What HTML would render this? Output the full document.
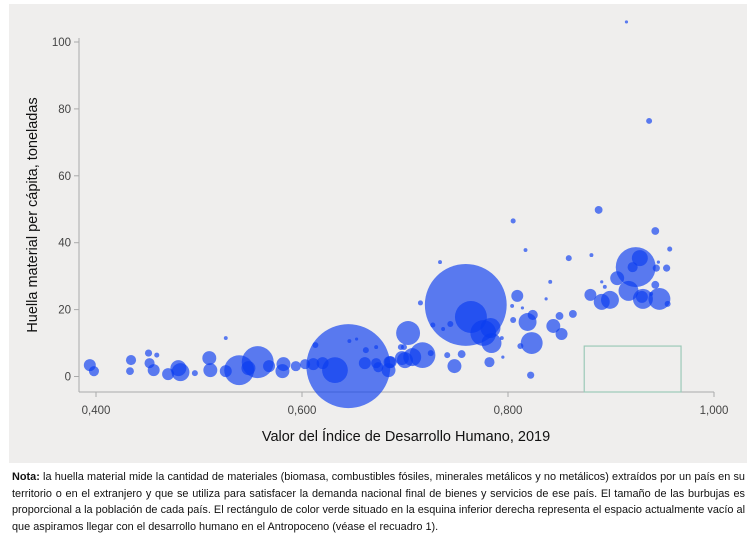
<!DOCTYPE html>
<html><head><meta charset="utf-8"><style>
body{margin:0;width:754px;height:529px;background:#fff;overflow:hidden;font-family:"Liberation Sans",sans-serif;}
#panel{position:absolute;left:9px;top:4px;width:738px;height:459px;background:#efeeed;}
#note{position:absolute;left:12px;top:469px;width:733px;font-size:10.9px;line-height:16.7px;color:#111;text-align:justify;}
svg{position:absolute;left:0;top:0;}
</style></head><body>
<div id="panel"></div>
<svg id="chart" width="754" height="529"></svg>
<div id="note"><b>Nota:</b> la huella material mide la cantidad de materiales (biomasa, combustibles fósiles, minerales metálicos y no metálicos) extraídos por un país en su territorio o en el extranjero y que se utiliza para satisfacer la demanda nacional final de bienes y servicios de ese país. El tamaño de las burbujas es proporcional a la población de cada país. El rectángulo de color verde situado en la esquina inferior derecha representa el espacio actualmente vacío al que aspiramos llegar con el desarrollo humano en el Antropoceno (véase el recuadro 1).</div>
<script>
const hdi=[.394,.398,.434,.433,.451,.459,.452,.456,.470,.482,.480,.496,.510,.511,.526,.526,.539,.557,.548,.568,.582,.581,.594,.603,.611,.620,.613,.646,.653,.672,.662,.661,.672,.685,.684,.674,.699,.700,.645,.632,.759,.764,.924,.928,.921,.946,.944,.954,.888,.805,.943,.817,.957,.859,.881,.734,.906,.891,.894,.943,.880,.891,.899,.917,.930,.931,.947,.955,.939,.841,.837,.863,.809,.804,.814,.805,.819,.824,.823,.812,.822,.844,.850,.852,.715,.727,.737,.744,.703,.717,.707,.697,.725,.755,.748,.741,.782,.794,.784,.776,.783,.795,.696,.686,.915,.937];
const footprint=[3.4,1.6,4.9,1.6,7.0,6.4,4.0,1.9,0.7,1.3,2.5,1.0,5.5,1.9,11.5,1.6,1.9,4.3,2.5,3.1,3.7,1.6,3.1,3.7,3.7,4.0,9.4,10.6,11.2,8.8,7.9,4.0,4.0,4.3,1.9,2.8,8.8,4.9,3.1,1.9,21.4,17.8,32.7,35.4,32.7,34.2,32.4,32.4,49.8,46.5,43.5,37.8,38.1,35.4,36.3,34.2,29.4,28.3,26.8,27.4,24.4,22.3,22.9,25.6,23.8,23.2,23.2,21.7,24.7,28.3,23.2,18.7,24.1,21.1,20.5,16.9,16.3,18.4,10.0,9.1,0.4,15.1,18.1,12.7,22.0,15.4,14.2,15.7,13.0,6.4,5.8,5.5,7.0,6.7,3.1,6.4,4.3,11.5,10.0,13.0,14.5,5.8,8.8,4.3,106,76.4];
const population=[28,20,20,12,10,5,20,28,28,63,50,7,38,38,3,28,175,200,38,28,38,38,20,20,28,28,7,3,2,3,7,28,20,28,38,20,7,50,1380,130,1311,200,312,50,20,2,10,10,12,5,12,3,5,7,3,3,38,2,3,12,28,50,63,78,28,78,94,7,3,3,2,12,28,3,2,7,63,20,94,7,10,38,12,28,5,5,3,7,112,130,63,38,7,12,38,7,20,3,78,130,78,2,7,28,2,7];
const xTicks=[0.4,0.6,0.8,1.0], xTickLabels=["0,400","0,600","0,800","1,000"];
const yTicks=[0,20,40,60,80,100];
const targetZone=[0.874,0.968,0,9.1];
const NS="http://www.w3.org/2000/svg";
const svg=document.getElementById('chart');
const X=h=>96+(h-0.4)*1030, Y=v=>376.5-v*3.345, R=p=>Math.sqrt(p)*1.13;
function mk(t,a){const e=document.createElementNS(NS,t);for(const k in a)e.setAttribute(k,a[k]);svg.appendChild(e);return e;}
const tf='"Liberation Sans Narrow","Liberation Sans",sans-serif';
let e=mk('line',{x1:79,y1:38,x2:79,y2:392,stroke:'#aaa'});


e=mk('line',{x1:79,y1:392,x2:714,y2:392,stroke:'#aaa'});


yTicks.forEach(v=>{mk('line',{x1:74,x2:79,y1:Y(v),y2:Y(v),stroke:'#aaa'});
 const t=mk('text',{x:71,y:Y(v)+4,'text-anchor':'end','font-size':11.5,fill:'#444','font-family':tf});t.textContent=v;
 
 });
xTicks.forEach((v,i)=>{mk('line',{x1:X(v),x2:X(v),y1:392,y2:397,stroke:'#aaa'});
 const t=mk('text',{x:X(v),y:414,'text-anchor':'middle','font-size':11.5,fill:'#444','font-family':tf});t.textContent=xTickLabels[i];
 
 });
e=mk('rect',{x:X(targetZone[0]),y:Y(targetZone[3]),width:X(targetZone[1])-X(targetZone[0]),height:Y(targetZone[2])-Y(targetZone[3])+15.5,fill:'none',stroke:'#9cc9b8','stroke-width':1.2});


const idx=hdi.map((_,i)=>i).sort((a,b)=>population[b]-population[a]);
idx.forEach(i=>{const c=mk('circle',{cx:X(hdi[i]),cy:Y(footprint[i]),r:R(population[i]),fill:'#0a3cf0','fill-opacity':0.66});
 
 });
e=mk('text',{x:406,y:441,'text-anchor':'middle','font-size':14.5,fill:'#111'});e.textContent='Valor del Índice de Desarrollo Humano, 2019';


e=mk('text',{x:0,y:0,'text-anchor':'middle','font-size':14.5,fill:'#111',transform:'translate(37,215) rotate(-90)'});e.textContent='Huella material per cápita, toneladas';


</script>
</body></html>
